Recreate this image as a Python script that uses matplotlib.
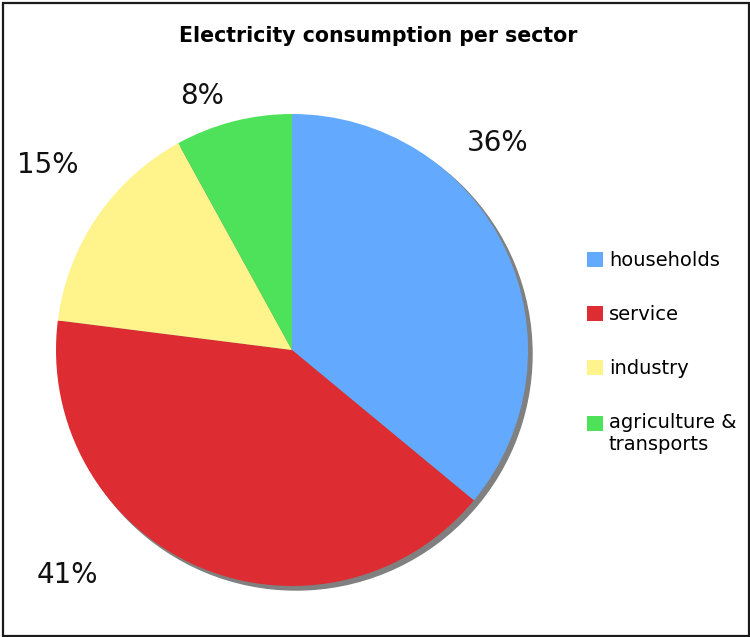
import numpy as np
import matplotlib
matplotlib.use("Agg")
import matplotlib.pyplot as plt
import matplotlib.patches as mpatches

# data
sectors = ["households", "service", "industry", "agriculture &\ntransports"]
shares = [36, 41, 15, 8]
colors = ["#63AAFF", "#DE2C33", "#FFF38C", "#4DE259"]
# where the percentage labels sit, in pie radius units (x, y)
label_pos = [(0.873, 0.877), (-0.953, -0.953), (-1.034, 0.784), (-0.381, 1.076)]

fig = plt.figure(figsize=(7.5, 6.37), dpi=100)

# pie axes: center at (292, 350) px, radius 236 px
W, H = 750.0, 637.0
r_px = 236.0
lim = 1.1
size = 2 * lim * r_px
ax = fig.add_axes([(292 - size / 2) / W, (H - 350 - size / 2) / H, size / W, size / H])

# gray drop shadow behind the pie
shadow = mpatches.Circle((0.017, -0.017), 1.0, color="#808080", zorder=0)
ax.add_patch(shadow)

wedges, _ = ax.pie(shares, colors=colors, startangle=90, counterclock=False,
                   radius=1.0, center=(0, 0), frame=True,
                   wedgeprops=dict(linewidth=0))
for w in wedges:
    w.set_zorder(1)
ax.set_xlim(-lim, lim)
ax.set_ylim(-lim, lim)
ax.set_aspect("equal")
ax.axis("off")

for s, (x, y) in zip(shares, label_pos):
    ax.text(x, y, "%d%%" % s, ha="center", va="center", fontsize=20, color="#111111")

fig.text(378 / W, 1 - 36 / H, "Electricity consumption per sector",
         ha="center", va="center", fontsize=14.8, fontweight="bold")

leg = fig.legend(wedges, sectors, loc="upper left",
                 bbox_to_anchor=(587 / W, 1 - 251 / H),
                 frameon=False, fontsize=14, handlelength=0.82, handleheight=0.82,
                 handletextpad=0.3, labelspacing=1.8, borderpad=0, borderaxespad=0)

# the two-line entry keeps its square beside the first line
h = leg.legend_handles[3]
h.set_y(h.get_y() + 8)

# frame around the whole picture
border = mpatches.Rectangle((3 / W, 1 - 636 / H), 746 / W, 633 / H,
                            transform=fig.transFigure, fill=False,
                            edgecolor="#1a1a1a", linewidth=1.6)
fig.patches.append(border)

fig.savefig("out.png", dpi=100)
